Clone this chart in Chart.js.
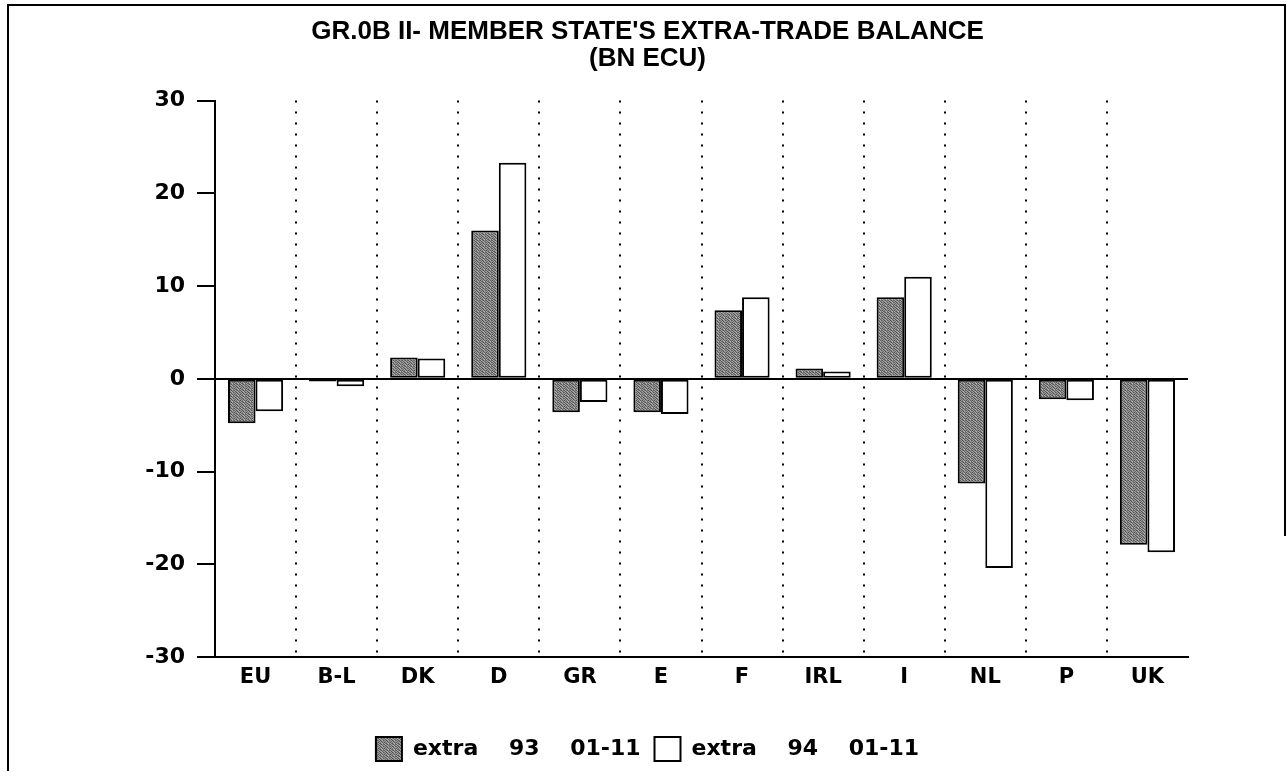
<!DOCTYPE html>
<html>
<head>
<meta charset="utf-8">
<script src="https://cdn.jsdelivr.net/npm/chart.js@4"></script>
<style>
  html, body { margin: 0; padding: 0; background: #fff; }
  #wrap { position: relative; width: 1287px; height: 771px; }
  #frameTop { position: absolute; left: 7px; top: 4px; width: 1275px; height: 530px;
    border-top: 2px solid #000; border-left: 2px solid #000; border-right: 2px solid #000; }
  #frameLeft { position: absolute; left: 7px; top: 4px; height: 767px; border-left: 2px solid #000; }
  canvas { position: absolute; left: 0; top: 0; }
</style>
</head>
<body>
<div id="wrap">
  <div id="frameTop"></div>
  <div id="frameLeft"></div>
  <canvas id="tradeChart" width="1287" height="771"></canvas>
</div>
<script>
// Data (BN ECU)
const countries = ["EU", "B-L", "DK", "D", "GR", "E", "F", "IRL", "I", "NL", "P", "UK"];
const extra93 = [-4.8, -0.3, 2.3, 16.0, -3.6, -3.6, 7.4, 1.1, 8.8, -11.3, -2.2, -17.9];
const extra94 = [-3.5, -0.8, 2.2, 23.3, -2.5, -3.8, 8.8, 0.8, 11.0, -20.4, -2.3, -18.7];
const seriesLabels = ["extra    93    01-11", "extra    94    01-11"];
const titleLines = ["GR.0B II- MEMBER STATE'S EXTRA-TRADE BALANCE", "(BN ECU)"];

const FONT = "'Liberation Sans', Arial, sans-serif";
const WIDE = "'DejaVu Sans', Verdana, sans-serif";

// grainy grey fill like the printed screen
function makeGrain() {
  const c = document.createElement("canvas");
  c.width = 6; c.height = 6;
  const g = c.getContext("2d");
  const shades = [
    "#5a5a5a", "#a8a8a8", "#828282", "#4c4c4c", "#969696", "#6e6e6e",
    "#9e9e9e", "#545454", "#909090", "#b2b2b2", "#646464", "#868686",
    "#767676", "#9a9a9a", "#505050", "#808080", "#acacac", "#5c5c5c",
    "#8e8e8e", "#686868", "#a4a4a4", "#585858", "#8a8a8a", "#989898",
    "#4e4e4e", "#949494", "#7a7a7a", "#a2a2a2", "#626262", "#848484",
    "#aaaaaa", "#6c6c6c", "#5a5a5a", "#929292", "#b4b4b4", "#666666"
  ];
  for (let i = 0; i < 36; i++) {
    g.fillStyle = shades[i];
    g.fillRect(i % 6, Math.floor(i / 6), 1, 1);
  }
  return g.createPattern(c, "repeat");
}

const ctx = document.getElementById("tradeChart").getContext("2d");
const grain = makeGrain();

new Chart(ctx, {
  type: "bar",
  data: {
    labels: countries,
    datasets: [
      {
        label: seriesLabels[0],
        data: extra93,
        backgroundColor: grain,
        borderColor: "#000",
        borderWidth: 2,
        borderSkipped: false,
        categoryPercentage: 0.68,
        barPercentage: 1.0,
      },
      {
        label: seriesLabels[1],
        data: extra94,
        backgroundColor: "#fff",
        borderColor: "#000",
        borderWidth: 2,
        borderSkipped: false,
        categoryPercentage: 0.68,
        barPercentage: 1.0,
      },
    ],
  },
  options: {
    responsive: false,
    animation: false,
    layout: { padding: { left: 107, right: 99, top: 0, bottom: 0 } },
    plugins: {
      tooltip: { enabled: false },
      title: {
        display: true,
        text: titleLines,
        color: "#000",
        font: { family: FONT, size: 26, weight: "bold", lineHeight: 1.05 },
        padding: { top: 18, bottom: 28 },
      },
      legend: {
        position: "bottom",
        labels: {
          color: "#000",
          boxWidth: 26,
          boxHeight: 24,
          padding: 14,
          font: { family: WIDE, size: 22, weight: "bold" },
        },
      },
    },
    scales: {
      x: {
        afterFit: (scale) => { scale.height = 66; },
        grid: {
          offset: true,
          drawTicks: false,
          lineWidth: 2,
          color: (c) => (c.index === undefined || c.index === 0 || c.index >= countries.length ? "transparent" : "#000"),
        },
        border: { display: true, color: "#000", width: 2, dash: [2, 9] },
        ticks: {
          color: "#000",
          padding: 8,
          font: { family: WIDE, size: 21, weight: "bold" },
        },
      },
      y: {
        min: -30,
        max: 30,
        afterFit: (scale) => { scale.width = 108; },
        grid: {
          drawTicks: true,
          tickLength: 18,
          tickColor: "#000",
          tickWidth: 2,
          lineWidth: 2,
          color: (c) => (c.tick && c.tick.value === 0 ? "#000" : "transparent"),
        },
        border: { display: true, color: "#000", width: 2 },
        ticks: {
          stepSize: 10,
          color: "#000",
          padding: 12,
          font: { family: WIDE, size: 22, weight: "bold" },
        },
      },
    },
  },
});
</script>
</body>
</html>
